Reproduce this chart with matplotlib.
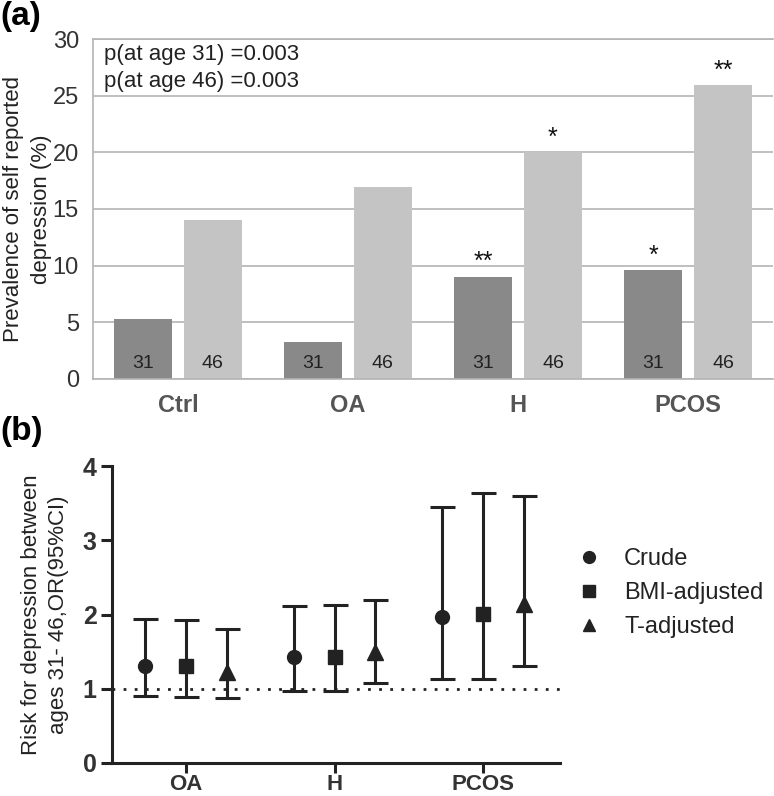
import matplotlib
matplotlib.use("Agg")
import matplotlib.pyplot as plt
from matplotlib.lines import Line2D
import numpy as np

# ---- data panel (a)
groups_a = ["Ctrl", "OA", "H", "PCOS"]
prev_31 = [5.3, 3.3, 9.0, 9.6]
prev_46 = [14.0, 16.9, 20.0, 25.9]
stars_31 = ["", "", "**", "*"]
stars_46 = ["", "", "*", "**"]
ages = ["31", "46"]
pvals = ["p(at age 31) =0.003", "p(at age 46) =0.003"]

# ---- data panel (b)
groups_b = ["OA", "H", "PCOS"]
series = ["Crude", "BMI-adjusted", "T-adjusted"]
or_est = {"Crude": [1.31, 1.43, 1.96],
          "BMI-adjusted": [1.30, 1.43, 2.01],
          "T-adjusted": [1.22, 1.50, 2.14]}
or_low = {"Crude": [0.90, 0.97, 1.13],
          "BMI-adjusted": [0.89, 0.97, 1.13],
          "T-adjusted": [0.87, 1.08, 1.30]}
or_high = {"Crude": [1.94, 2.11, 3.45],
           "BMI-adjusted": [1.92, 2.13, 3.64],
           "T-adjusted": [1.80, 2.19, 3.59]}

plt.rcParams['font.family'] = ['Liberation Sans', 'DejaVu Sans']

fig = plt.figure(figsize=(7.74, 7.96), dpi=100)

# ---------------- panel (a)
ax = fig.add_axes([0.120, 0.524, 0.879, 0.427])
x = np.arange(len(groups_a))
w = 0.34
off = 0.205
c31, c46 = "#898989", "#c4c4c4"
ax.bar(x - off, prev_31, w, color=c31, zorder=2)
ax.bar(x + off, prev_46, w, color=c46, zorder=2)
for i in range(len(groups_a)):
    ax.text(x[i] - off, 1.4, ages[0], ha="center", va="center", fontsize=14, color="#222")
    ax.text(x[i] + off, 1.4, ages[1], ha="center", va="center", fontsize=14, color="#222")
    if stars_31[i]:
        ax.text(x[i] - off, prev_31[i] + 1.3, stars_31[i], ha="center", va="center", fontsize=18, color="#111")
    if stars_46[i]:
        ax.text(x[i] + off, prev_46[i] + 1.3, stars_46[i], ha="center", va="center", fontsize=18, color="#111")
ax.set_xlim(-0.5, 3.5)
ax.set_ylim(0, 30)
ax.set_yticks(np.arange(0, 31, 5))
ax.yaxis.grid(True, color="#b4b4b4", linewidth=1.2, zorder=0)
ax.set_axisbelow(True)
ax.tick_params(axis="y", length=0, labelsize=17, labelcolor="#333", pad=10)
ax.set_xticks(x)
ax.set_xticklabels(groups_a, fontsize=17, fontweight="bold", color="#555")
ax.tick_params(axis="x", length=0, pad=11)
for s in ax.spines.values():
    s.set_color("#b4b4b4")
    s.set_linewidth(1.2)
ax.spines["right"].set_visible(False)
ax.set_ylabel("Prevalence of self reported\ndepression (%)", fontsize=16, color="#222",
              linespacing=1.45)
ax.yaxis.set_label_coords(-0.06, 0.5)
ax.text(0.016, 0.955, pvals[0], transform=ax.transAxes, fontsize=16, color="#222", va="center")
ax.text(0.016, 0.875, pvals[1], transform=ax.transAxes, fontsize=16, color="#222", va="center")
fig.text(0.0, 0.999, "(a)", fontsize=24, fontweight="bold", va="top", ha="left")

# ---------------- panel (b)
bx = fig.add_axes([0.1447, 0.0415, 0.579, 0.373])
xb = np.arange(len(groups_b))
offs = [-0.275, 0.0, 0.275]
markers = ["o", "s", "^"]
msizes = [10, 10, 11]
lc = "#222222"
for j, sname in enumerate(series):
    est = np.array(or_est[sname])
    lo = np.array(or_low[sname])
    hi = np.array(or_high[sname])
    bx.errorbar(xb + offs[j], est, yerr=[est - lo, hi - est], fmt=markers[j],
                color=lc, ecolor=lc, elinewidth=2.2, capsize=9, capthick=2.2,
                markersize=msizes[j], zorder=3)
bx.axhline(1, color=lc, linestyle=(0, (1, 3)), linewidth=2, zorder=1)
bx.set_xlim(-0.5, 2.52)
bx.set_ylim(0, 4)
bx.set_yticks([0, 1, 2, 3, 4])
bx.set_xticks(xb)
bx.set_xticklabels(groups_b, fontsize=16, fontweight="bold", color="#333")
for lab in bx.get_yticklabels():
    lab.set_fontweight("bold")
bx.tick_params(axis="y", length=8, width=2.2, labelsize=18, color=lc, labelcolor="#333", pad=3)
bx.tick_params(axis="x", length=7, width=2.2, color=lc, pad=1)
bx.spines["top"].set_visible(False)
bx.spines["right"].set_visible(False)
for s in ("left", "bottom"):
    bx.spines[s].set_linewidth(2.2)
    bx.spines[s].set_color(lc)
bx.set_ylabel("Risk for depression between\nages 31- 46,OR(95%CI)", fontsize=16, color="#222",
              linespacing=1.4)
bx.yaxis.set_label_coords(-0.095, 0.5)
handles = [Line2D([], [], marker=m, linestyle="none", color=lc, markersize=s * 0.85)
           for m, s in zip(markers, msizes)]
leg = bx.legend(handles, series, loc="center left", bbox_to_anchor=(0.99, 0.572), frameon=False,
                fontsize=17, handletextpad=1.0, labelspacing=0.5, handlelength=1.0)
for t in leg.get_texts():
    t.set_color("#222")
fig.text(0.0, 0.478, "(b)", fontsize=24, fontweight="bold", va="top", ha="left")

fig.savefig("out.png", dpi=100)
